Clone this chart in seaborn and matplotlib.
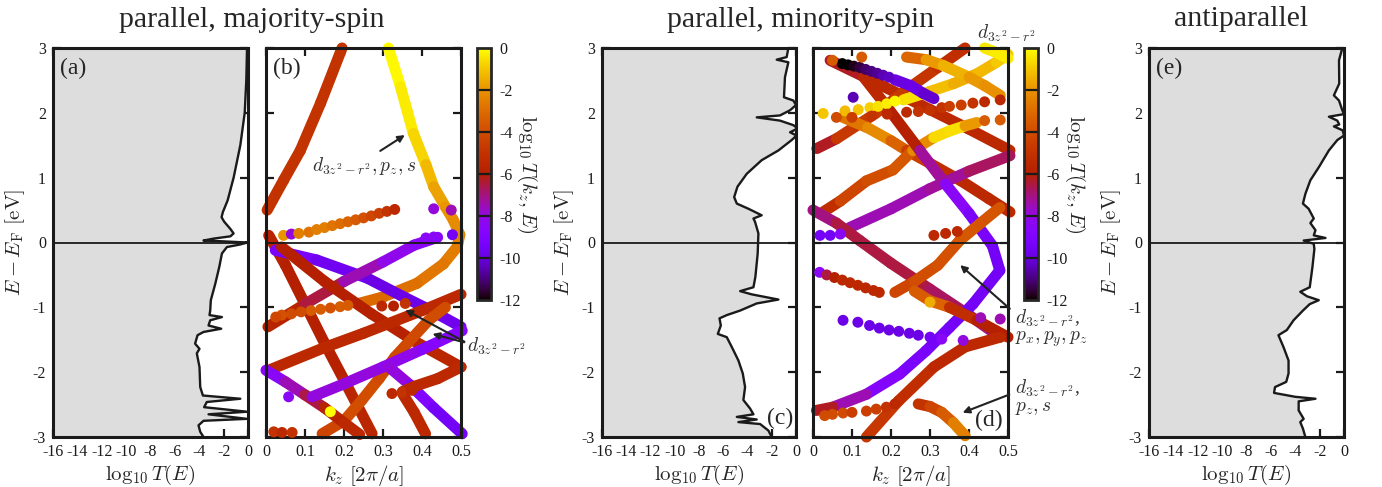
import numpy as np
import matplotlib
matplotlib.use("Agg")
import matplotlib.pyplot as plt
from matplotlib.collections import LineCollection
from matplotlib.colors import Normalize
from matplotlib.cm import ScalarMappable
import seaborn as sns

sns.set_theme(style="ticks")
plt.rcParams["font.family"] = ["Liberation Serif", "DejaVu Serif"]
plt.rcParams["mathtext.fontset"] = "cm"
plt.rcParams["axes.unicode_minus"] = False

# ---------------- data: log10 T(E) curves, (E, log10 T) ----------------
curve_a = [(3.0, -0.08), (2.5, -0.14), (2.0, -0.27), (1.5, -0.63), (1.0, -1.18), (0.65, -1.67),
           (0.47, -2.06), (0.39, -2.17), (0.32, -1.95), (0.21, -1.45), (0.14, -1.18), (0.095, -1.45),
           (0.06, -2.83), (0.03, -3.65), (0.02, -2.28), (0.0, -0.08), (-0.03, -0.63), (-0.07, -1.73),
           (-0.17, -2.14), (-0.38, -2.36), (-0.64, -2.69), (-0.89, -3.05), (-1.05, -3.1), (-1.12, -3.16),
           (-1.15, -2.14), (-1.2, -3.1), (-1.28, -3.24), (-1.33, -2.2), (-1.38, -3.65), (-1.43, -4.14),
           (-1.56, -4.34), (-1.64, -3.98), (-1.71, -4.2), (-1.92, -3.98), (-2.23, -3.92), (-2.36, -3.7),
           (-2.41, -0.63), (-2.46, -3.38), (-2.54, -3.6), (-2.61, -0.08), (-2.65, -3.24), (-2.72, -0.08),
           (-2.75, -3.65), (-2.82, -4.06), (-2.92, -3.92), (-3.0, -3.65)]
curve_c = [(3.0, -0.63), (2.86, -0.77), (2.82, -1.59), (2.78, -0.63), (2.55, -0.91), (2.24, -0.99),
           (2.19, -0.22), (2.12, 0.0), (2.04, -0.49), (1.96, -1.32), (1.93, -3.24), (1.88, -1.32),
           (1.81, -0.22), (1.76, 0.15), (1.70, -0.49), (1.65, 0.05), (1.58, -0.36), (1.42, -1.45),
           (1.27, -2.83), (1.06, -4.06), (0.86, -4.83), (0.70, -5.1), (0.6, -4.88), (0.52, -3.92),
           (0.42, -2.83), (0.37, -3.51), (0.32, -3.38), (0.14, -3.1), (-0.17, -3.16), (-0.53, -3.35),
           (-0.69, -3.51), (-0.75, -4.61), (-0.80, -3.65), (-0.88, -1.45), (-0.94, -3.24), (-1.05, -4.61),
           (-1.12, -5.71), (-1.17, -6.31), (-1.28, -6.2), (-1.41, -6.45), (-1.46, -5.71), (-1.61, -5.3),
           (-1.82, -4.75), (-2.02, -4.39), (-2.23, -4.2), (-2.43, -4.34), (-2.56, -3.79), (-2.65, -3.51),
           (-2.69, -4.88), (-2.73, -3.24), (-2.77, -4.75), (-2.80, -2.96), (-2.90, -2.28), (-3.0, -2.0)]
curve_e = [(3.0, -0.14), (2.81, -0.41), (2.45, -0.39), (2.27, -0.83), (2.19, -0.41), (2.04, -0.14),
           (1.98, 0.0), (1.94, -1.24), (1.88, -0.55), (1.82, -0.39), (1.79, -0.83), (1.73, -0.11),
           (1.65, 0.0), (1.58, -0.55), (1.42, -1.24), (1.16, -2.07), (0.96, -2.76), (0.75, -3.17),
           (0.6, -3.37), (0.52, -2.9), (0.42, -2.62), (0.37, -2.48), (0.30, -2.76), (0.19, -2.34),
           (0.11, -2.48), (0.07, -1.52), (0.03, -3.31), (-0.02, -2.48), (-0.1, -2.43), (-0.38, -2.59),
           (-0.69, -2.81), (-0.76, -3.59), (-0.83, -3.03), (-0.89, -2.07), (-0.95, -2.81), (-1.05, -3.37),
           (-1.2, -4.14), (-1.35, -4.69), (-1.43, -5.38), (-1.61, -4.97), (-1.82, -4.55), (-2.02, -4.55),
           (-2.15, -4.74), (-2.23, -5.66), (-2.32, -5.74), (-2.38, -4.0), (-2.41, -2.34), (-2.45, -3.72),
           (-2.59, -3.72), (-2.72, -3.31), (-2.77, -3.59), (-2.87, -3.37), (-3.0, -3.17)]

# ---------------- data: bands, (k_z, E, log10 T(k_z,E)) ----------------
# majority spin, panel (b)
maj_b1 = [(0.003, 0.50, -5.0), (0.045, 0.96, -5.0), (0.088, 1.42, -5.0), (0.14, 2.15, -5.0), (0.195, 3.0, -5.0)]
maj_b2 = [(0.314, 3.0, 0.0), (0.345, 2.4, -0.2), (0.378, 1.68, -0.5), (0.41, 1.2, -1.0), (0.43, 0.86, -1.5),
          (0.46, 0.55, -1.9), (0.48, 0.35, -2.1), (0.497, 0.12, -2.3), (0.49, -0.07, -2.5), (0.455, -0.33, -2.6),
          (0.387, -0.63, -2.8), (0.30, -0.84, -3.0), (0.238, -0.94, -3.2)]
maj_A = [(0.007, 0.11, -5.5), (0.05, -0.35, -6.0), (0.1, -0.95, -6.0), (0.15, -1.55, -6.0), (0.2, -2.12, -5.8),
         (0.272, -2.95, -5.5)]
maj_B = [(0.024, -0.12, -9.0), (0.13, -0.27, -9.5), (0.26, -0.55, -9.8), (0.35, -0.83, -9.8), (0.43, -1.07, -9.8),
         (0.5, -1.3, -9.6)]
maj_C = [(0.005, -1.3, -5.5), (0.1, -0.95, -6.0), (0.2, -0.6, -7.0), (0.3, -0.3, -8.0), (0.38, -0.04, -8.5),
         (0.44, 0.08, -8.5)]
maj_D = [(0.04, -0.07, -6.0), (0.15, -0.6, -6.0), (0.27, -1.1, -6.0), (0.38, -1.52, -5.8), (0.5, -1.92, -5.5)]
maj_E = [(0.007, -1.97, -5.5), (0.15, -1.62, -5.5), (0.25, -1.4, -5.5), (0.4, -1.05, -5.5), (0.5, -0.8, -5.5)]
maj_F = [(0.144, -2.95, -4.5), (0.2, -2.75, -4.0), (0.246, -2.43, -3.8), (0.29, -2.1, -4.0), (0.33, -1.77, -4.2),
         (0.417, -1.2, -4.0), (0.46, -1.0, -4.0)]
maj_G = [(0.0, -1.97, -9.0), (0.05, -2.15, -8.0), (0.1, -2.35, -7.0), (0.15, -2.55, -6.0), (0.2, -2.78, -5.5),
         (0.24, -2.96, -5.5)]
maj_H = [(0.118, -2.38, -8.0), (0.2, -2.18, -8.0), (0.3, -1.92, -8.0), (0.4, -1.65, -8.5), (0.503, -1.36, -9.0)]
maj_I = [(0.315, -1.92, -7.5), (0.37, -2.2, -8.5), (0.43, -2.55, -9.5), (0.503, -2.95, -9.5)]
maj_J = [(0.5, -1.92, -5.5), (0.44, -2.1, -5.5), (0.38, -2.22, -5.5), (0.35, -2.3, -5.5)]
maj_K = [(0.35, -2.33, -5.5), (0.38, -2.62, -5.5), (0.409, -2.95, -5.5)]
maj_dots = [(0.045, 0.11, -2.0), (0.065, 0.13, -8.0), (0.084, 0.14, -2.5), (0.11, 0.16, -2.8), (0.13, 0.2, -2.5),
            (0.15, 0.23, -2.5), (0.17, 0.26, -2.8), (0.19, 0.29, -3.0), (0.21, 0.32, -3.2), (0.23, 0.35, -3.5),
            (0.25, 0.38, -3.8), (0.27, 0.41, -4.2), (0.29, 0.45, -4.5), (0.31, 0.48, -5.0), (0.33, 0.51, -5.5),
            (0.43, 0.52, -8.0), (0.475, 0.50, -7.5), (0.41, 0.07, -8.5), (0.43, 0.085, -8.5), (0.478, 0.12, -9.5),
            (0.21, -0.97, -3.5), (0.19, -0.99, -3.5), (0.165, -1.01, -3.8), (0.14, -1.03, -3.5), (0.115, -1.05, -3.5),
            (0.09, -1.07, -4.0), (0.065, -1.1, -4.0), (0.04, -1.12, -3.8), (0.025, -1.15, -4.2),
            (0.297, -0.98, -5.5), (0.327, -0.98, -6.0), (0.357, -0.94, -5.0),
            (0.323, -2.33, -5.5), (0.349, -2.31, -5.0), (0.374, -2.28, -5.5), (0.02, -2.92, -5.0),
            (0.041, -2.93, -5.5), (0.067, -2.93, -5.0), (0.058, -2.38, -8.5), (0.165, -2.61, 0.0)]

# minority spin, panel (d)
min_1 = [(0.044, 2.81, -7.0), (0.15, 2.5, -5.5), (0.3, 2.05, -5.5), (0.4, 1.75, -5.5), (0.505, 1.42, -5.5)]
min_2 = [(0.01, 1.45, -7.5), (0.06, 1.6, -5.0), (0.16, 1.99, -4.5), (0.25, 2.4, -4.8), (0.32, 2.7, -5.0),
         (0.39, 3.0, -5.5)]
min_3 = [(0.232, 2.2, -0.2), (0.3, 2.33, -0.8), (0.36, 2.45, -1.5), (0.42, 2.6, -1.5), (0.47, 2.78, -1.0),
         (0.5, 2.9, -0.8)]
min_5 = [(0.24, 2.86, -3.5), (0.29, 2.82, -2.8), (0.334, 2.73, -1.0), (0.4, 2.55, -1.8), (0.44, 2.42, -2.0),
         (0.48, 2.27, -2.2)]
min_6 = [(0.44, 3.0, -0.5), (0.47, 2.93, -0.3), (0.5, 2.84, -0.3)]
min_7 = [(0.077, 1.93, -3.5), (0.14, 1.77, -2.0), (0.2, 1.57, -2.5), (0.24, 1.42, -4.0), (0.3, 1.22, -5.0),
         (0.38, 0.95, -5.5), (0.45, 0.68, -5.5), (0.505, 0.47, -5.5)]
min_8 = [(0.026, 0.47, -6.0), (0.07, 0.64, -4.5), (0.137, 0.95, -4.0), (0.205, 1.12, -3.8), (0.256, 1.42, -3.5),
         (0.31, 1.62, -1.0), (0.35, 1.72, -0.3), (0.39, 1.8, -0.8), (0.42, 1.85, -3.0)]
min_9 = [(0.094, 0.23, -7.5), (0.2, 0.52, -7.5), (0.3, 0.83, -7.5), (0.4, 1.1, -7.0), (0.505, 1.34, -6.5)]
min_10 = [(0.0, 0.5, -7.5), (0.06, 0.3, -6.5), (0.12, 0.03, -6.5), (0.2, -0.32, -6.5), (0.3, -0.72, -6.5),
          (0.4, -1.12, -7.0), (0.48, -1.46, -7.0)]
min_11 = [(0.13, 2.55, -5.5), (0.19, 2.09, -5.5), (0.274, 1.42, -6.5), (0.34, 0.9, -8.0), (0.4, 0.45, -9.0),
          (0.46, -0.05, -9.5), (0.479, -0.43, -9.5), (0.41, -0.95, -9.5), (0.35, -1.31, -9.5), (0.29, -1.67, -9.4),
          (0.222, -2.03, -9.2), (0.137, -2.34, -8.5), (0.051, -2.54, -6.5), (0.009, -2.59, -6.0)]
min_13 = [(0.21, -0.77, -4.5), (0.26, -0.6, -4.0), (0.32, -0.35, -3.8), (0.376, 0.03, -3.8), (0.43, 0.3, -3.5),
          (0.479, 0.54, -4.0)]
min_14 = [(0.26, -0.75, -5.0), (0.3, -0.9, -2.0), (0.35, -1.0, -4.5), (0.42, -1.2, -6.0), (0.5, -1.46, -6.0)]
min_16 = [(0.137, -3.0, -4.5), (0.22, -2.44, -5.0), (0.31, -1.92, -5.5), (0.39, -1.61, -5.5), (0.48, -1.46, -5.5)]
min_18 = [(0.27, -2.49, -5.5), (0.3, -2.53, -4.5), (0.33, -2.62, -4.0), (0.36, -2.78, -3.0), (0.39, -2.98, -2.0)]
min_viol = [(0.21, 2.51, -10.0), (0.25, 2.42, -9.8), (0.283, 2.3, -9.8), (0.31, 2.22, -10.5)]
min_dots = [(0.075, 2.76, -12.0), (0.09, 2.74, -12.0), (0.105, 2.72, -11.8), (0.12, 2.7, -11.5), (0.135, 2.67, -11.2),
            (0.15, 2.64, -11.0), (0.165, 2.61, -10.8), (0.18, 2.58, -10.5), (0.195, 2.55, -10.3),
            (0.05, 2.81, -3.5), (0.125, 2.86, -3.5), (0.103, 2.24, -10.5),
            (0.026, 1.99, -1.0), (0.082, 2.03, -1.2), (0.116, 2.05, -1.0), (0.146, 2.08, -0.8), (0.167, 2.1, -0.5),
            (0.189, 2.14, -0.3), (0.21, 2.18, -0.1),
            (0.06, 1.93, -4.0), (0.1, 1.93, -4.5), (0.15, 1.95, -5.0), (0.19, 1.98, -5.5), (0.24, 2.01, -5.5),
            (0.27, 2.02, -5.0), (0.3, 2.04, -5.0), (0.33, 2.08, -5.0), (0.35, 2.1, -4.5), (0.38, 2.12, -4.5),
            (0.41, 2.15, -5.0), (0.44, 2.17, -5.5), (0.48, 2.2, -5.5),
            (0.44, 1.88, -3.5), (0.48, 1.89, -3.5),
            (0.018, 0.11, -9.5), (0.044, 0.11, -9.5), (0.07, 0.13, -8.5), (0.31, 0.11, -5.5), (0.34, 0.14, -5.5),
            (0.37, 0.17, -5.5),
            (0.017, -0.46, -8.5), (0.035, -0.5, -6.5), (0.055, -0.54, -6.0), (0.075, -0.58, -5.5), (0.095, -0.62, -5.5),
            (0.115, -0.66, -5.5), (0.135, -0.7, -5.5), (0.155, -0.74, -5.5), (0.17, -0.77, -5.5),
            (0.077, -1.2, -9.8), (0.115, -1.23, -9.8), (0.145, -1.28, -9.8), (0.17, -1.32, -9.8), (0.195, -1.35, -9.8),
            (0.22, -1.37, -9.8), (0.247, -1.4, -9.8), (0.27, -1.43, -9.8), (0.3, -1.46, -9.5), (0.33, -1.49, -8.5),
            (0.385, -1.51, -8.0), (0.43, -1.16, -7.5), (0.48, -1.18, -7.5), (0.3, -0.92, -1.5),
            (0.03, -2.67, -4.0), (0.05, -2.65, -4.0), (0.077, -2.63, -4.0), (0.1, -2.62, -4.5), (0.137, -2.6, -4.5),
            (0.162, -2.57, -4.5), (0.188, -2.54, -5.0), (0.21, -2.49, -5.5)]

maj_bands = [maj_b1, maj_b2, maj_A, maj_B, maj_C, maj_D, maj_E, maj_F, maj_G, maj_H, maj_I, maj_J, maj_K]
min_bands = [min_1, min_2, min_3, min_5, min_6, min_7, min_8, min_9, min_10, min_11, min_13, min_14,
             min_16, min_18, min_viol]

CMAP = plt.get_cmap("gnuplot")
NORM = Normalize(-12, 0)
GRAY = "#dcdddc"
W, H = 1382, 487

fig = plt.figure(figsize=(W / 100, H / 100), dpi=100)


def px_axes(x0, x1, y0, y1):
    return fig.add_axes([x0 / W, 1 - y1 / H, (x1 - x0) / W, (y1 - y0) / H])


def frame(ax):
    for s in ax.spines.values():
        s.set_linewidth(2.2)
        s.set_color("k")
    ax.tick_params(direction="in", top=True, right=True, length=5.5, width=1.6,
                   labelsize=11.5, pad=5, colors="k")
    ax.set_ylim(-3, 3)
    ax.set_yticks(range(-3, 4))


def draw_T(ax, curve):
    E = np.array([p[0] for p in curve])
    T = np.array([p[1] for p in curve])
    ax.fill_betweenx(E, -16, T, color=GRAY, lw=0)
    sns.lineplot(x=T, y=E, sort=False, estimator=None, color="k", lw=1.7, ax=ax)
    ax.axhline(0, color="k", lw=1.3)
    ax.set_xlim(-16, 0)
    ax.set_xticks(range(-16, 1, 2))
    ax.set_xlabel(r"$\log_{10} T(E)$", fontsize=15, labelpad=2)
    ax.set_ylabel(r"$E - E_{\rm F}\ [{\rm eV}]$", fontsize=15, labelpad=4)
    frame(ax)


def draw_bands(ax, bands, dots):
    for b in bands:
        a = np.array(b)
        segs = np.stack([a[:-1, :2], a[1:, :2]], axis=1)
        lc = LineCollection(segs, cmap=CMAP, norm=NORM, linewidths=8,
                            capstyle="round", joinstyle="round", zorder=2, clip_on=False)
        lc.set_array((a[:-1, 2] + a[1:, 2]) / 2)
        ax.add_collection(lc)
    d = np.array(dots)
    sns.scatterplot(x=d[:, 0], y=d[:, 1], hue=d[:, 2], palette=CMAP, hue_norm=NORM,
                    s=62, linewidth=0, legend=False, ax=ax, zorder=3, clip_on=False)
    ax.axhline(0, color="k", lw=1.3, zorder=5)
    ax.set_xlim(0, 0.5)
    ax.set_xticks([0, 0.1, 0.2, 0.3, 0.4, 0.5], ["0", "0.1", "0.2", "0.3", "0.4", "0.5"])
    ax.set_xlabel(r"$k_z\ [2\pi/a]$", fontsize=15, labelpad=2)
    frame(ax)
    ax.set_yticklabels([])
    ax.set_ylabel("")


def draw_cbar(cax, xlabel):
    cb = fig.colorbar(ScalarMappable(norm=NORM, cmap=CMAP), cax=cax)
    cb.set_ticks(range(-12, 1, 2))
    cb.ax.tick_params(length=0, labelsize=11.5, pad=6, colors="k")
    cb.outline.set_linewidth(2.0)
    for v in range(-10, 0, 2):
        cax.axhline(v, color="k", lw=1.6)
    fig.text(xlabel / W, 1 - 174 / H, r"$\log_{10} T(k_z, E)$", rotation=270,
             ha="center", va="center", fontsize=15)


ax_a = px_axes(53, 248, 48, 437)
ax_b = px_axes(266, 461, 48, 437)
cax1 = px_axes(477, 491, 48, 300)
ax_c = px_axes(602, 796, 48, 437)
ax_d = px_axes(813, 1008, 48, 437)
cax2 = px_axes(1024, 1038, 48, 300)
ax_e = px_axes(1149, 1344, 48, 437)

draw_T(ax_a, curve_a)
draw_T(ax_c, curve_c)
draw_T(ax_e, curve_e)
draw_bands(ax_b, maj_bands, maj_dots)
draw_bands(ax_d, min_bands, min_dots)
draw_cbar(cax1, 527)
draw_cbar(cax2, 1075)

lab = dict(fontsize=17)
ax_a.text(0.035, 0.975, "(a)", transform=ax_a.transAxes, ha="left", va="top", **lab)
ax_b.text(0.035, 0.975, "(b)", transform=ax_b.transAxes, ha="left", va="top", **lab)
ax_c.text(0.985, 0.02, "(c)", transform=ax_c.transAxes, ha="right", va="bottom", **lab)
ax_d.text(0.975, 0.015, "(d)", transform=ax_d.transAxes, ha="right", va="bottom", **lab)
ax_e.text(0.035, 0.975, "(e)", transform=ax_e.transAxes, ha="left", va="top", **lab)

arr = dict(arrowstyle="-|>", color="#222222", lw=1.5, mutation_scale=10)
ann = dict(fontsize=14, color="#333333")
ax_b.annotate("", xy=(0.362, 1.68), xytext=(0.287, 1.39), arrowprops=arr, zorder=6)
ax_b.text(0.118, 1.18, r"$d_{3z^2-r^2}, p_z, s$", ha="left", va="center", zorder=6, **ann)
ax_b.annotate("", xy=(0.351, -1.02), xytext=(0.515, -1.55), arrowprops=arr, annotation_clip=False, zorder=6)
ax_b.annotate("", xy=(0.42, -1.40), xytext=(0.515, -1.55), arrowprops=arr, annotation_clip=False, zorder=6)
ax_b.text(0.515, -1.6, r"$d_{3z^2-r^2}$", ha="left", va="center", clip_on=False, **ann)

ax_d.text(0.42, 3.22, r"$d_{3z^2-r^2}$", ha="left", va="center", clip_on=False, **ann)
ax_d.annotate("", xy=(0.372, -0.32), xytext=(0.51, -1.05), arrowprops=arr, annotation_clip=False, zorder=6)
ax_d.text(0.518, -1.32, r"$d_{3z^2-r^2}$," + "\n" + r"$p_x, p_y, p_z$", ha="left", va="center",
          clip_on=False, linespacing=0.9, **ann)
ax_d.annotate("", xy=(0.377, -2.64), xytext=(0.51, -2.33), arrowprops=arr, annotation_clip=False, zorder=6)
ax_d.text(0.518, -2.39, r"$d_{3z^2-r^2}$," + "\n" + r"$p_z, s$", ha="left", va="center",
          clip_on=False, linespacing=0.9, **ann)

fig.text(252 / W, 1 - 20 / H, "parallel, majority-spin", ha="center", va="center", fontsize=21.5)
fig.text(801 / W, 1 - 20 / H, "parallel, minority-spin", ha="center", va="center", fontsize=21.5)
fig.text(1241 / W, 1 - 19 / H, "antiparallel", ha="center", va="center", fontsize=21.5)

fig.savefig("out.png", dpi=100)
